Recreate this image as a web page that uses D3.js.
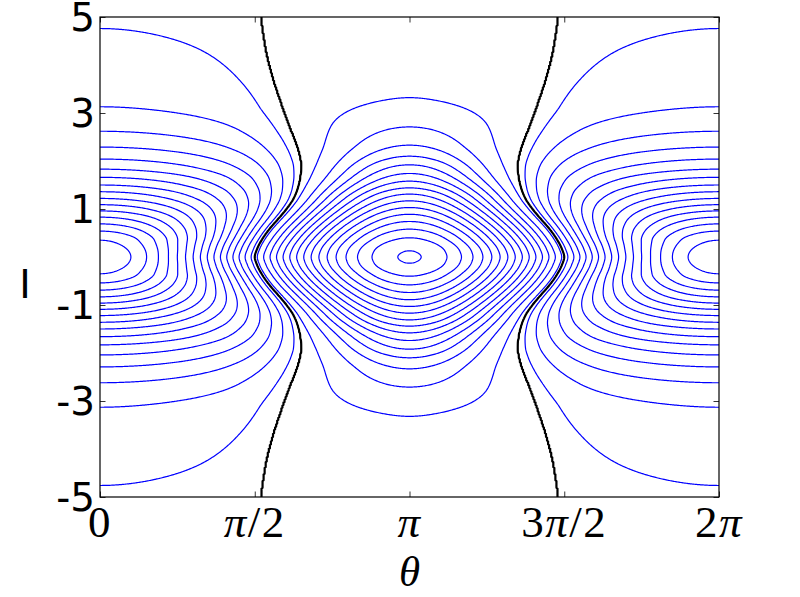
<!DOCTYPE html>
<html><head><meta charset="utf-8">
<script src="https://cdn.jsdelivr.net/npm/d3@7"></script>
<style>body{margin:0;background:#fff} svg{display:block}</style>
</head><body>
<svg id="chart" width="800" height="597"></svg>
<script>
// ---- data ----
// I (upper half) where contours cross theta = 0, outermost first, with their levels
const crossTheta0I     = [4.76, 3.13, 2.62, 2.29, 2.04, 1.83, 1.66, 1.50, 1.36, 1.22, 1.09, 0.96, 0.83, 0.69, 0.54, 0.35];
const crossTheta0Level = [0.6, 1.6, 2.6, 3.6, 4.6, 5.6, 6.6, 7.6, 8.6, 9.6, 10.6, 11.6, 12.6, 13.6, 14.6, 15.6];
// I (upper half) where contours cross theta = pi, outermost first, with their levels
const crossThetaPiI     = [3.32, 2.71, 2.33, 2.10, 1.92, 1.74, 1.58, 1.44, 1.31, 1.17, 1.03, 0.89, 0.74, 0.58, 0.40, 0.13];
const crossThetaPiLevel = [-0.4, -1.4, -2.4, -3.4, -4.4, -5.4, -6.4, -7.4, -8.4, -9.4, -10.4, -11.4, -12.4, -13.4, -14.4, -15.4];
// estimated values at the two centres and beyond the last contour
const centreTheta0 = 16.4;
const centreThetaPi = -15.51;
const tailTheta0I = [5.4];
const tailTheta0Value = [0.47];
const tailThetaPiI = [4.2, 5.4];
const tailThetaPiValue = [-0.12, -0.04];
// black separatrix (upper half): I and theta
const separatrixI     = [0, 0.18, 0.39, 0.60, 0.80, 1.01, 1.22, 1.43, 1.69, 1.90, 2.10, 2.40, 2.75, 3.24, 3.77, 4.35, 4.97, 5.4];
const separatrixTheta = [1.5708, 1.597, 1.652, 1.726, 1.811, 1.896, 1.964, 2.005, 2.032, 2.039, 2.024, 1.980, 1.912, 1.827, 1.743, 1.675, 1.631, 1.615];
// profile shape between centre and separatrix (estimated from contour crossings)
const shape0I = [0, 0.6, 1.2, 1.8, 2.4, 3.0, 3.6, 4.2, 4.8, 5.4];
const shape0A = [1.0, 0.93, 0.84, 0.74, 0.7, 0.67, 0.64, 0.64, 0.66, 0.68];
const shapePiI = [0, 0.6, 1.2, 1.8, 2.4, 3.0, 3.6, 5.4];
const shapePiN = [1.0, 1.05, 1.15, 1.5, 1.85, 1.9, 1.8, 1.6];
// contour levels
const blueLevels = [-15.4, -14.4, -13.4, -12.4, -11.4, -10.4, -9.4, -8.4, -7.4, -6.4, -5.4, -4.4, -3.4, -2.4, -1.4, -0.4,
                    0.6, 1.6, 2.6, 3.6, 4.6, 5.6, 6.6, 7.6, 8.6, 9.6, 10.6, 11.6, 12.6, 13.6, 14.6, 15.6];
const blackLevels = [0];
// ticks
const xTickValues = [0, Math.PI / 2, Math.PI, 3 * Math.PI / 2, 2 * Math.PI];
const xTickLabels = [["0"], ["π", "/2"], ["π"], ["3", "π", "/2"], ["2", "π"]];
const yTickValues = [5, 3, 1, -1, -3, -5];
const yTickLabels = ["5", "3", "1", "-1", "-3", "-5"];

// ---- helpers ----
function pchip(pts) {
  pts = pts.slice().sort((p, q) => p[0] - q[0]);
  const xs = pts.map(p => p[0]), ys = pts.map(p => p[1]), n = xs.length;
  const h = [], d = [];
  for (let i = 0; i < n - 1; i++) { h[i] = xs[i + 1] - xs[i]; d[i] = (ys[i + 1] - ys[i]) / h[i]; }
  const m = new Array(n);
  m[0] = d[0]; m[n - 1] = d[n - 2];
  for (let i = 1; i < n - 1; i++) {
    if (d[i - 1] * d[i] <= 0) m[i] = 0;
    else { const w1 = 2 * h[i] + h[i - 1], w2 = h[i] + 2 * h[i - 1]; m[i] = (w1 + w2) / (w1 / d[i - 1] + w2 / d[i]); }
  }
  return x => {
    if (x <= xs[0]) return ys[0] + m[0] * (x - xs[0]);
    if (x >= xs[n - 1]) return ys[n - 1] + m[n - 1] * (x - xs[n - 1]);
    let lo = 0, hi = n - 1;
    while (hi - lo > 1) { const mid = (lo + hi) >> 1; if (xs[mid] <= x) lo = mid; else hi = mid; }
    const t = (x - xs[lo]) / h[lo], t2 = t * t, t3 = t2 * t;
    return (2 * t3 - 3 * t2 + 1) * ys[lo] + (t3 - 2 * t2 + t) * h[lo] * m[lo] + (-2 * t3 + 3 * t2) * ys[hi] + (t3 - t2) * h[lo] * m[hi];
  };
}
const mirrored = pts => pts.concat(pts.filter(p => p[0] > 0).map(p => [-p[0], p[1]]));
const zip = (a, b) => a.map((v, k) => [v, b[k]]);

const f0 = pchip(mirrored(zip(crossTheta0I, crossTheta0Level).concat([[0, centreTheta0]], zip(tailTheta0I, tailTheta0Value))));
const fPi = pchip(mirrored(zip(crossThetaPiI, crossThetaPiLevel).concat([[0, centreThetaPi]], zip(tailThetaPiI, tailThetaPiValue))));
const fSep = pchip(mirrored(zip(separatrixI, separatrixTheta)));
const fA0 = pchip(mirrored(zip(shape0I, shape0A)));
const fNPi = pchip(mirrored(zip(shapePiI, shapePiN)));

// ---- layout ----
const svg = d3.select("#chart");
const X0 = 100, X1 = 719, Y0 = 17, Y1 = 497;
const xScale = d3.scaleLinear().domain([0, 2 * Math.PI]).range([X0, X1]);
const yScale = d3.scaleLinear().domain([-5, 5]).range([Y1, Y0]);

// ---- field on a grid ----
const thMin = -0.25, thMax = 2 * Math.PI + 0.25, iMax = 5.3, iMin = -5.3;
const nx = 640, ny = 540;
const dth = (thMax - thMin) / (nx - 1), dI = (iMax - iMin) / (ny - 1);
const values = new Float64Array(nx * ny);
const HALF = Math.PI / 2;
for (let j = 0; j < ny; j++) {
  const I = iMax - j * dI;
  const h0 = f0(I), hp = fPi(I), ts = fSep(I), a0 = fA0(I), np = fNPi(I);
  for (let i = 0; i < nx; i++) {
    let th = thMin + i * dth;
    th = Math.abs(th);                       // symmetric about 0
    if (th > Math.PI) th = 2 * Math.PI - th; // symmetric about pi
    let v;
    if (th <= ts) {
      const u = th / ts;
      const s = a0 * u + (1 - a0) * Math.pow(u, 5);
      v = h0 * Math.cos(HALF * s);
    } else {
      const w = (Math.PI - th) / (Math.PI - ts);
      v = hp * Math.pow(Math.cos(HALF * w), np);
    }
    values[j * nx + i] = v;
  }
}
const proj = d3.geoTransform({
  point(x, y) {
    const th = thMin + (x - 0.5) * dth, I = iMax - (y - 0.5) * dI;
    this.stream.point(xScale(th), yScale(I));
  }
});
const path = d3.geoPath(proj);
const contours = d3.contours().size([nx, ny]);

svg.append("defs").append("clipPath").attr("id", "plotclip")
  .append("rect").attr("x", X0).attr("y", Y0).attr("width", X1 - X0).attr("height", Y1 - Y0);

const plot = svg.append("g").attr("clip-path", "url(#plotclip)");
plot.selectAll("path.blue").data(contours.thresholds(blueLevels)(values)).join("path")
  .attr("class", "blue").attr("d", path).attr("fill", "none").attr("stroke", "#0000ff").attr("stroke-width", 1.2);
plot.selectAll("path.black").data(contours.thresholds(blackLevels)(values)).join("path")
  .attr("class", "black").attr("d", path).attr("fill", "none").attr("stroke", "#000").attr("stroke-width", 2.2);

// ---- axes (ticks inside, on all four sides) ----
const tick = 5.5;
svg.append("g").attr("transform", `translate(0,${Y1})`)
  .call(d3.axisBottom(xScale).tickValues(xTickValues).tickSize(-tick).tickFormat(() => ""));
svg.append("g").attr("transform", `translate(0,${Y0})`)
  .call(d3.axisTop(xScale).tickValues(xTickValues).tickSize(-tick).tickFormat(() => ""));
svg.append("g").attr("transform", `translate(${X0},0)`)
  .call(d3.axisLeft(yScale).tickValues(yTickValues).tickSize(-tick).tickFormat(() => ""));
svg.append("g").attr("transform", `translate(${X1},0)`)
  .call(d3.axisRight(yScale).tickValues(yTickValues).tickSize(-tick).tickFormat(() => ""));
svg.selectAll(".domain").remove();
svg.selectAll(".tick line").attr("stroke", "#000").attr("stroke-width", 0.8);
svg.append("rect").attr("x", X0).attr("y", Y0).attr("width", X1 - X0).attr("height", Y1 - Y0)
  .attr("fill", "none").attr("stroke", "#000").attr("stroke-width", 1.2);

// y tick labels
svg.append("g").selectAll("text").data(yTickValues).join("text")
  .attr("x", 95).attr("y", d => yScale(d) + 14.2)
  .attr("text-anchor", "end").attr("font-family", "DejaVu Sans").attr("font-size", 38.9)
  .text((d, k) => yTickLabels[k]);

// x tick labels (math style)
const xl = svg.append("g").selectAll("text").data(xTickValues).join("text")
  .attr("x", d => xScale(d)).attr("y", 537)
  .attr("text-anchor", "middle").attr("font-family", "Liberation Serif, DejaVu Serif").attr("font-size", 45)
  .attr("letter-spacing", 1.5);
xl.each(function (d, k) {
  const t = d3.select(this);
  xTickLabels[k].forEach(s => t.append("tspan").attr("font-style", s === "π" ? "italic" : "normal").text(s));
});

// axis titles
svg.append("text").attr("x", xScale(Math.PI)).attr("y", 586).attr("text-anchor", "middle")
  .attr("font-family", "Liberation Serif, DejaVu Serif").attr("font-style", "italic").attr("font-size", 43).text("θ");
svg.append("text").attr("x", 25).attr("y", 298).attr("text-anchor", "middle")
  .attr("font-family", "DejaVu Sans").attr("font-size", 38.9).text("I");
</script>
</body></html>
